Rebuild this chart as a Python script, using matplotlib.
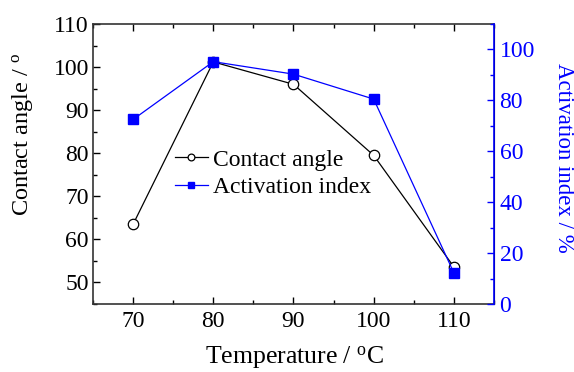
import matplotlib
matplotlib.use("Agg")
import matplotlib.pyplot as plt
from matplotlib.ticker import MultipleLocator

plt.rcParams['font.family'] = ['Liberation Serif', 'DejaVu Serif']
plt.rcParams['mathtext.fontset'] = 'custom'
plt.rcParams['mathtext.rm'] = 'Liberation Serif'
plt.rcParams['mathtext.it'] = 'Liberation Serif:italic'

temperature = [70, 80, 90, 100, 110]
contact_angle = [63.5, 101.2, 96.0, 79.5, 53.6]
activation_index = [72.5, 95.2, 90.3, 80.5, 12.2]

W, H = 574, 372
fig = plt.figure(figsize=(W / 100, H / 100), dpi=100)
ax = fig.add_axes([93 / W, 1 - 304 / H, (494 - 93) / W, (304 - 24) / H])
ax2 = ax.twinx()

fs = 17
l1, = ax.plot(temperature, contact_angle, color='black', lw=0.9, marker='o',
              markersize=7.5, markerfacecolor='white', markeredgecolor='black',
              markeredgewidth=0.9, label='Contact angle', zorder=3)
l2, = ax2.plot(temperature, activation_index, color='blue', lw=0.9, marker='s',
               markersize=7, markerfacecolor='blue', markeredgecolor='blue',
               label='Activation index', zorder=3)

ax.set_xlim(65, 115)
ax.set_ylim(45, 110)
ax2.set_ylim(0, 110)

ax.xaxis.set_major_locator(MultipleLocator(10))
ax.xaxis.set_minor_locator(MultipleLocator(5))
ax.yaxis.set_major_locator(MultipleLocator(10))
ax.yaxis.set_minor_locator(MultipleLocator(5))
ax2.yaxis.set_major_locator(MultipleLocator(20))
ax2.yaxis.set_minor_locator(MultipleLocator(10))

ax.tick_params(axis='both', which='both', direction='in', labelsize=fs, width=1.0)
ax.tick_params(axis='x', which='both', top=True)
ax.tick_params(which='major', length=5)
ax.tick_params(which='minor', length=3)
ax.tick_params(axis='y', which='both', right=False, pad=3)
ax.tick_params(axis='x', pad=5)
ax2.tick_params(axis='y', which='both', direction='in', labelsize=fs,
                colors='blue', width=1.0, pad=4)
ax2.tick_params(which='major', length=5)
ax2.tick_params(which='minor', length=3)

for s in ['left', 'bottom', 'top']:
    ax.spines[s].set_linewidth(1.2)
    ax.spines[s].set_color('#333333')
ax2.spines['right'].set_color('blue')
ax2.spines['right'].set_linewidth(1.2)
ax2.spines['left'].set_visible(False)
ax2.spines['top'].set_visible(False)
ax2.spines['bottom'].set_visible(False)

fig.text(295 / W, 1 - 358 / H, r'Temperature / $^{\mathrm{o}}$C', fontsize=18.5,
         ha='center', va='center')
fig.text(23 / W, 1 - 135 / H, r'Contact angle / $^{\mathrm{o}}$', fontsize=17.5,
         ha='center', va='center', rotation=90)
fig.text(563 / W, 1 - 158 / H, 'Activation index / %', fontsize=16.5,
         ha='center', va='center', rotation=270, color='blue')

leg = ax.legend(handles=[l1, l2], loc='upper left', bbox_to_anchor=(0.163, 0.612),
                frameon=False, fontsize=fs, handlelength=1.4, handletextpad=0.2,
                markerscale=0.65, labelspacing=0.25, borderpad=0.2)

fig.savefig('out.png', dpi=100)
